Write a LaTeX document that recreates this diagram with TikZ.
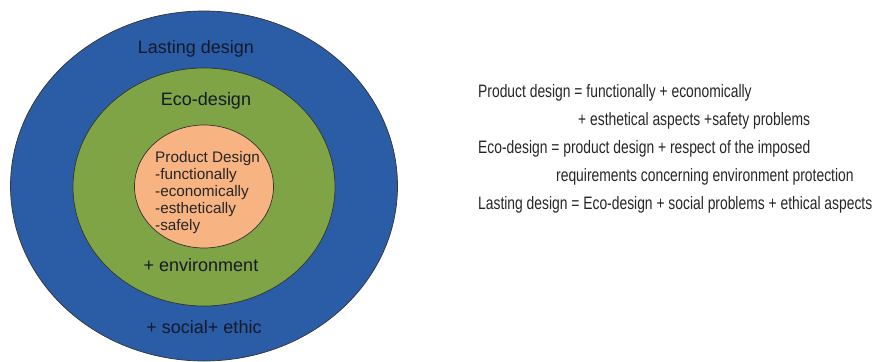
\documentclass[tikz,border=0pt]{standalone}
\usepackage{fontspec}
\setmainfont{Liberation Sans}
\newfontfamily\narrowfont[FakeStretch=0.77]{Liberation Sans}
\usetikzlibrary{shapes.geometric}
\definecolor{outerblue}{HTML}{2A5DA6}
\definecolor{midgreen}{HTML}{7FA446}
\definecolor{innerorange}{HTML}{F8B383}
\definecolor{labeltext}{HTML}{15192A}
\tikzset{
  ring/.style={ellipse, draw=black!80, line width=0.7pt, inner sep=0pt},
  ringlabel/.style={anchor=base, inner sep=0pt, text=labeltext, font=\fontsize{18}{20}\selectfont},
  pdline/.style={anchor=base west, inner sep=0pt, text=black!85, font=\fontsize{15.3}{17}\selectfont},
  defline/.style={anchor=base west, inner sep=0pt, text=black!85, font=\narrowfont\fontsize{18}{20}\selectfont}
}
\begin{document}
\begin{tikzpicture}[x=1pt,y=-1pt]
\useasboundingbox (0,0) rectangle (877,361);
\node[ring, fill=outerblue, minimum width=387pt, minimum height=350pt] (outer) at (204,186) {};
\node[ring, fill=midgreen, minimum width=262pt, minimum height=238pt] (mid) at (204,187) {};
\node[ring, fill=innerorange, minimum width=139pt, minimum height=123pt] (inner) at (204,186.5) {};
\node[ringlabel] (lasting) at (196,53) {Lasting design};
\node[ringlabel] (eco) at (206,105) {Eco-design};
\node[ringlabel] (env) at (201,271) {+ environment};
\node[ringlabel] (social) at (204,333) {+ social+ ethic};
\node[pdline] (pd1) at (155,162.5) {Product Design};
\node[pdline] (pd2) at (155,179.5) {-functionally};
\node[pdline] (pd3) at (155,196.5) {-economically};
\node[pdline] (pd4) at (155,213.5) {-esthetically};
\node[pdline] (pd5) at (155,230.5) {-safely};
\node[defline] (d1) at (478,97) {Product design = functionally + economically};
\node[defline] (d2) at (578,125) {+ esthetical aspects +safety problems};
\node[defline] (d3) at (478,153) {Eco-design = product design + respect of the imposed};
\node[defline] (d4) at (556,181) {requirements concerning environment protection};
\node[defline] (d5) at (478,209) {Lasting design = Eco-design + social problems + ethical aspects};
\end{tikzpicture}
\end{document}
